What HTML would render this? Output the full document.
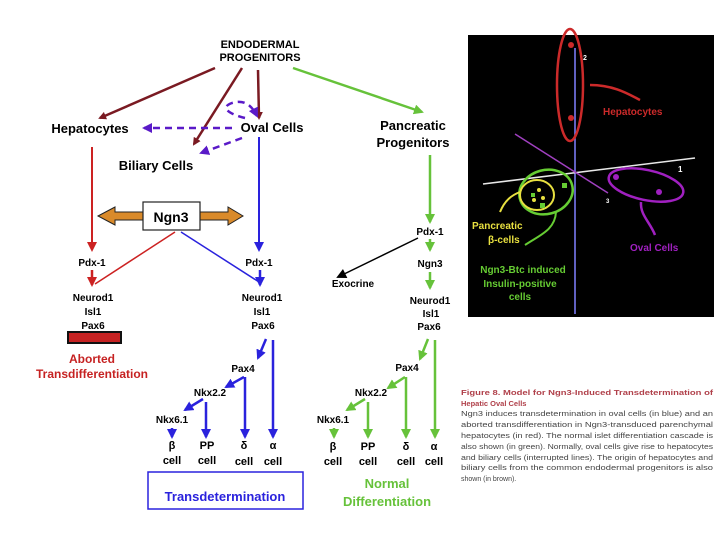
<!DOCTYPE html>
<html><head><meta charset="utf-8"><style>
html,body{margin:0;padding:0;background:#fff;}
svg{display:block;}
text{font-family:"Liberation Sans",Arial,sans-serif;font-weight:bold;}
</style></head><body>
<svg width="720" height="540" viewBox="0 0 720 540" xmlns="http://www.w3.org/2000/svg">
<defs>
<marker id="ab" markerWidth="8" markerHeight="8" refX="6" refY="4" orient="auto" markerUnits="userSpaceOnUse"><path d="M0,0 L8,4 L0,8 z" fill="#7a1a22"/></marker>
<marker id="ag" markerWidth="10" markerHeight="10" refX="8" refY="5" orient="auto" markerUnits="userSpaceOnUse"><path d="M0,0 L10,5 L0,10 z" fill="#66c23a"/></marker>
<marker id="ar" markerWidth="10" markerHeight="10" refX="8" refY="5" orient="auto" markerUnits="userSpaceOnUse"><path d="M0,0 L10,5 L0,10 z" fill="#cc2222"/></marker>
<marker id="abl" markerWidth="10" markerHeight="10" refX="8" refY="5" orient="auto" markerUnits="userSpaceOnUse"><path d="M0,0 L10,5 L0,10 z" fill="#2a22dd"/></marker>
<marker id="ap" markerWidth="10" markerHeight="10" refX="8" refY="5" orient="auto" markerUnits="userSpaceOnUse"><path d="M0,0 L10,5 L0,10 z" fill="#5a1ac8"/></marker>
<marker id="ak" markerWidth="10" markerHeight="10" refX="8" refY="5" orient="auto" markerUnits="userSpaceOnUse"><path d="M0,0 L10,5 L0,10 z" fill="#000"/></marker>
</defs>

<text x="260" y="48" font-size="11" text-anchor="middle">ENDODERMAL</text>
<text x="260" y="61" font-size="11" text-anchor="middle">PROGENITORS</text>
<text x="90" y="133" font-size="13" text-anchor="middle">Hepatocytes</text>
<text x="272" y="132" font-size="13" text-anchor="middle">Oval Cells</text>
<text x="156" y="170" font-size="13" text-anchor="middle">Biliary Cells</text>
<text x="413" y="130" font-size="13" text-anchor="middle">Pancreatic</text>
<text x="413" y="147" font-size="13" text-anchor="middle">Progenitors</text>

<g stroke="#7a1a22" stroke-width="2.5" fill="none">
<line x1="215" y1="68" x2="100" y2="118" marker-end="url(#ab)"/>
<line x1="242" y1="68" x2="194" y2="144" marker-end="url(#ab)"/>
<line x1="258" y1="70" x2="259" y2="118" marker-end="url(#ab)"/>
</g>
<line x1="293" y1="68" x2="422" y2="112" stroke="#66c23a" stroke-width="2.5" marker-end="url(#ag)"/>

<g stroke="#5a1ac8" stroke-width="2.5" fill="none" stroke-dasharray="7,5">
<line x1="232" y1="128" x2="144" y2="128" marker-end="url(#ap)"/>
<line x1="242" y1="138" x2="201" y2="153" marker-end="url(#ap)"/>
<path d="M245,118 C232,115 218,108 232,103 C245,99 252,106 257,116" marker-end="url(#ap)"/>
</g>

<line x1="92" y1="147" x2="92" y2="250" stroke="#cc2222" stroke-width="2" marker-end="url(#ar)"/>
<line x1="259" y1="137" x2="259" y2="250" stroke="#2a22dd" stroke-width="2" marker-end="url(#abl)"/>
<line x1="430" y1="155" x2="430" y2="222" stroke="#66c23a" stroke-width="2.5" marker-end="url(#ag)"/>

<path d="M98,216 L115,207 L115,212 L228,212 L228,207 L243,216 L228,225 L228,220 L115,220 L115,225 Z" fill="#d98a2a" stroke="#222" stroke-width="1"/>
<rect x="143" y="202" width="57" height="28" fill="#fff" stroke="#222" stroke-width="1.2"/>
<text x="171" y="222" font-size="14" text-anchor="middle">Ngn3</text>

<line x1="175" y1="232" x2="95" y2="284" stroke="#cc2222" stroke-width="1.5"/>
<line x1="181" y1="232" x2="259" y2="282" stroke="#2a22dd" stroke-width="1.5"/>

<text x="92" y="266" font-size="10" text-anchor="middle">Pdx-1</text>
<line x1="92" y1="270" x2="92" y2="285" stroke="#cc2222" stroke-width="2.5" marker-end="url(#ar)"/>
<text x="259" y="266" font-size="10" text-anchor="middle">Pdx-1</text>
<line x1="260" y1="270" x2="260" y2="285" stroke="#2a22dd" stroke-width="2.5" marker-end="url(#abl)"/>

<g font-size="10" text-anchor="middle">
<text x="93" y="301">Neurod1</text><text x="93" y="315">Isl1</text><text x="93" y="329">Pax6</text>
<text x="262" y="301">Neurod1</text><text x="262" y="315">Isl1</text><text x="263" y="329">Pax6</text>
<text x="430" y="235">Pdx-1</text><text x="430" y="267">Ngn3</text>
<text x="430" y="304">Neurod1</text><text x="431" y="317">Isl1</text><text x="429" y="330">Pax6</text>
<text x="353" y="287">Exocrine</text>
</g>
<line x1="430" y1="239" x2="430" y2="250" stroke="#66c23a" stroke-width="2.5" marker-end="url(#ag)"/>
<line x1="430" y1="272" x2="430" y2="288" stroke="#66c23a" stroke-width="2.5" marker-end="url(#ag)"/>
<line x1="418" y1="238" x2="338" y2="277" stroke="#000" stroke-width="1.5" marker-end="url(#ak)"/>

<rect x="68" y="332" width="53" height="11" fill="#c62222" stroke="#111" stroke-width="2"/>
<text x="92" y="363" font-size="12" text-anchor="middle" fill="#c62222" font-weight="normal">Aborted</text>
<text x="92" y="378" font-size="12" text-anchor="middle" fill="#c62222">Transdifferentiation</text>

<g stroke="#2a22dd" stroke-width="2.5" fill="none">
<line x1="266" y1="339" x2="258" y2="358" marker-end="url(#abl)"/>
<line x1="273" y1="340" x2="273" y2="437" marker-end="url(#abl)"/>
<line x1="244" y1="377" x2="226" y2="387" marker-end="url(#abl)"/>
<line x1="245" y1="377" x2="245" y2="437" marker-end="url(#abl)"/>
<line x1="203" y1="399" x2="185" y2="410" marker-end="url(#abl)"/>
<line x1="206" y1="402" x2="206" y2="437" marker-end="url(#abl)"/>
<line x1="172" y1="428" x2="172" y2="437" marker-end="url(#abl)"/>
</g>
<g stroke="#66c23a" stroke-width="2.5" fill="none">
<line x1="428" y1="339" x2="420" y2="359" marker-end="url(#ag)"/>
<line x1="435" y1="340" x2="435" y2="437" marker-end="url(#ag)"/>
<line x1="405" y1="377" x2="388" y2="388" marker-end="url(#ag)"/>
<line x1="406" y1="377" x2="406" y2="437" marker-end="url(#ag)"/>
<line x1="365" y1="399" x2="347" y2="410" marker-end="url(#ag)"/>
<line x1="368" y1="402" x2="368" y2="437" marker-end="url(#ag)"/>
<line x1="334" y1="428" x2="334" y2="437" marker-end="url(#ag)"/>
</g>
<g font-size="10" text-anchor="middle">
<text x="243" y="372">Pax4</text><text x="210" y="396">Nkx2.2</text><text x="172" y="423">Nkx6.1</text>
<text x="407" y="371">Pax4</text><text x="371" y="396">Nkx2.2</text><text x="333" y="423">Nkx6.1</text>
</g>
<g font-size="11" text-anchor="middle">
<text x="172" y="449">β</text><text x="172" y="464">cell</text>
<text x="207" y="449">PP</text><text x="207" y="464">cell</text>
<text x="244" y="449">δ</text><text x="244" y="465">cell</text>
<text x="273" y="449">α</text><text x="273" y="465">cell</text>
<text x="333" y="450">β</text><text x="333" y="465">cell</text>
<text x="368" y="450">PP</text><text x="368" y="465">cell</text>
<text x="406" y="450">δ</text><text x="406" y="465">cell</text>
<text x="434" y="450">α</text><text x="434" y="465">cell</text>
</g>
<rect x="148" y="472" width="155" height="37" fill="none" stroke="#2a22dd" stroke-width="1.5"/>
<text x="225" y="502" font-size="13" text-anchor="middle" fill="#2a22dd" dy="-1">Transdetermination</text>
<text x="387" y="488" font-size="13" text-anchor="middle" fill="#66c23a">Normal</text>
<text x="387" y="506" font-size="13" text-anchor="middle" fill="#66c23a">Differentiation</text>

<text x="461" y="395" font-size="7.5" fill="#b0404a" textLength="252" lengthAdjust="spacingAndGlyphs">Figure 8.  Model for Ngn3-Induced Transdetermination of</text>
<text x="461" y="406" font-size="7.5" fill="#b0404a">Hepatic Oval Cells</text>
<g font-size="7" fill="#444">
<text x="461" y="416" textLength="252" lengthAdjust="spacingAndGlyphs" style="font-weight:normal">Ngn3 induces transdetermination in oval cells (in blue) and an</text>
<text x="461" y="427" textLength="252" lengthAdjust="spacingAndGlyphs" style="font-weight:normal">aborted transdifferentiation in Ngn3-transduced parenchymal</text>
<text x="461" y="438" textLength="252" lengthAdjust="spacingAndGlyphs" style="font-weight:normal">hepatocytes (in red). The normal islet differentiation cascade is</text>
<text x="461" y="449" textLength="252" lengthAdjust="spacingAndGlyphs" style="font-weight:normal">also shown (in green). Normally, oval cells give rise to hepatocytes</text>
<text x="461" y="460" textLength="252" lengthAdjust="spacingAndGlyphs" style="font-weight:normal">and biliary cells (interrupted lines). The origin of hepatocytes and</text>
<text x="461" y="470" textLength="252" lengthAdjust="spacingAndGlyphs" style="font-weight:normal">biliary cells from the common endodermal progenitors is also</text>
<text x="461" y="481" style="font-weight:normal">shown (in brown).</text>
</g>

<rect x="468" y="35" width="246" height="282" fill="#000"/>
<line x1="575" y1="48" x2="575" y2="314" stroke="#8080ff" stroke-width="1.5"/>
<text x="583" y="60" font-size="7" fill="#fff">2</text>
<line x1="483" y1="184" x2="695" y2="158" stroke="#e8e8e8" stroke-width="1.5"/>
<text x="678" y="172" font-size="8" fill="#fff">1</text>
<line x1="515" y1="134" x2="608" y2="193" stroke="#a040c0" stroke-width="1.5"/>
<text x="606" y="203" font-size="6" fill="#fff">3</text>
<ellipse cx="570" cy="85" rx="13" ry="56" fill="none" stroke="#cc2a2a" stroke-width="2.5"/>
<circle cx="571" cy="45" r="3" fill="#cc2a2a"/><circle cx="571" cy="118" r="3" fill="#cc2a2a"/>
<path d="M590,85 C615,85 630,95 640,100" stroke="#cc2a2a" stroke-width="2.5" fill="none"/>
<text x="603" y="115" font-size="10" fill="#cc2a2a">Hepatocytes</text>
<ellipse cx="646" cy="185" rx="38" ry="15" transform="rotate(12 646 185)" fill="none" stroke="#a020c0" stroke-width="2.5"/>
<circle cx="616" cy="177" r="3" fill="#a020c0"/><circle cx="659" cy="192" r="3" fill="#a020c0"/>
<path d="M641,202 C640,215 650,222 655,235" stroke="#a020c0" stroke-width="2.5" fill="none"/>
<text x="630" y="251" font-size="10" fill="#a020c0">Oval Cells</text>
<ellipse cx="546" cy="192" rx="27" ry="22" transform="rotate(-15 546 192)" fill="none" stroke="#66cc33" stroke-width="2.5"/>
<ellipse cx="537" cy="195" rx="17" ry="15" fill="none" stroke="#e8e040" stroke-width="2"/>
<circle cx="539" cy="190" r="2" fill="#e8e040"/><circle cx="534" cy="200" r="2" fill="#e8e040"/><circle cx="543" cy="198" r="2" fill="#e8e040"/>
<rect x="531" y="193" width="4" height="4" fill="#66cc33"/><rect x="540" y="203" width="5" height="5" fill="#66cc33"/><rect x="562" y="183" width="5" height="5" fill="#66cc33"/>
<path d="M500,212 C505,200 512,195 520,192" stroke="#e8e040" stroke-width="2" fill="none"/>
<path d="M525,245 C540,235 555,230 556,212" stroke="#66cc33" stroke-width="2" fill="none"/>
<text x="472" y="229" font-size="10" fill="#e8e040">Pancreatic</text>
<text x="488" y="243" font-size="10" fill="#e8e040">β-cells</text>
<text x="523" y="273" font-size="10" fill="#66cc33" text-anchor="middle">Ngn3-Btc induced</text>
<text x="520" y="287" font-size="10" fill="#66cc33" text-anchor="middle">Insulin-positive</text>
<text x="520" y="300" font-size="10" fill="#66cc33" text-anchor="middle">cells</text>
</svg>
</body></html>
